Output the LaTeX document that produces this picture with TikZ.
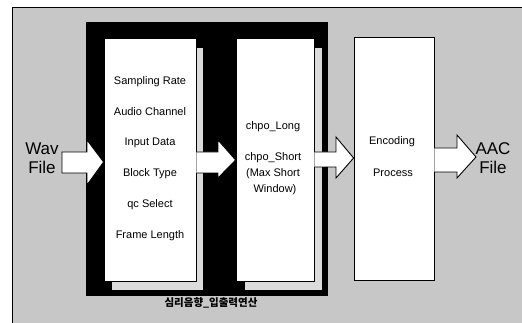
\documentclass[tikz,border=0pt]{standalone}
\usepackage{fontspec}
\setmainfont{Liberation Sans}
\newfontfamily\krfont{Noto Sans CJK KR}
\usetikzlibrary{calc}
\begin{document}
\begin{tikzpicture}[x=1pt,y=-1pt,
  panel/.style={draw=black,line width=0.8pt,fill=white,inner sep=0pt},
  shadowbox/.style={fill=black!14},
  barrow/.style={draw=black,line width=0.9pt,fill=white,line join=miter},
  itemtxt/.style={font=\fontsize{11}{13}\selectfont,anchor=center,inner sep=0pt},
  bigtxt/.style={font=\fontsize{17}{19}\selectfont,align=center,inner sep=0pt}]
\useasboundingbox (0,0) rectangle (522,323);
% background
\fill[black!22] (12,7) rectangle (522,323);
\draw[line width=0.8pt] (12,323) -- (12,7) -- (522,7);
% black frame
\fill[black] (86,22) rectangle (328,296);
% shadows
\fill[shadowbox] (112,48) rectangle (203,290);
\fill[shadowbox] (245,48) rectangle (322,290);
% boxes
\node[panel,minimum width=92pt,minimum height=243pt] (b1) at (150,159.5) {};
\node[panel,minimum width=78pt,minimum height=243pt] (b2) at (275,159.5) {};
\node[panel,minimum width=80pt,minimum height=243pt] (b3) at (394,158.5) {};
% box 1 text
\node[itemtxt] (t1) at (150,82) {Sampling Rate};
\node[itemtxt] (t2) at (150,112) {Audio Channel};
\node[itemtxt] (t3) at (150,143) {Input Data};
\node[itemtxt] (t4) at (150,174) {Block Type};
\node[itemtxt] (t5) at (150,205) {qc Select};
\node[itemtxt] (t6) at (150,236) {Frame Length};
% box 2 text
\node[itemtxt] (u1) at (273,127) {chpo\_Long};
\node[itemtxt] (u2) at (273,158) {chpo\_Short};
\node[itemtxt] (u3) at (273,174) {(Max Short};
\node[itemtxt] (u4) at (275,190) {Window)};
% box 3 text
\node[itemtxt] (v1) at (392,142) {Encoding};
\node[itemtxt] (v2) at (393,173) {Process};
% labels
\node[bigtxt] (wav) at (42,158) {Wav\\File};
\node[bigtxt] (aac) at (493,158) {AAC\\File};
\node[inner sep=0pt,font=\krfont\fontsize{10.5}{12}\selectfont\bfseries] (kr) at (211,303) {심리음향\_입출력연산};
% block arrows
\draw[barrow] (62,152) -- (87,152) -- (87,140) -- (b1.west |- 0,162) -- (87,185) -- (87,173) -- (62,173) -- cycle;
\draw[barrow] (b1.east |- 0,152) -- (218,152) -- (218,140) -- (b2.west |- 0,160) -- (218,178) -- (218,173) -- (b1.east |- 0,173);
\draw[barrow] (b2.east |- 0,152) -- (336,152) -- (336,137) -- (b3.west |- 0,158) -- (336,178) -- (336,167) -- (b2.east |- 0,167);
\draw[barrow] (b3.east |- 0,148) -- (457,148) -- (457,135) -- (476,157) -- (457,178) -- (457,172) -- (b3.east |- 0,172);
\end{tikzpicture}
\end{document}
